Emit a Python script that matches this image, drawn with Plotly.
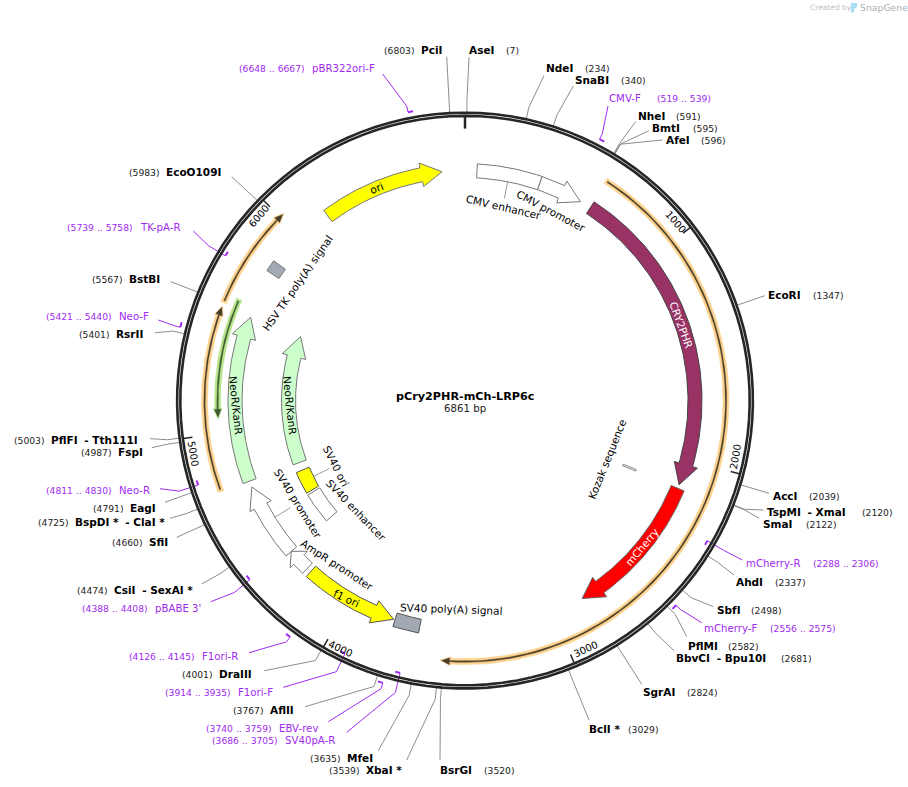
import numpy as np
import plotly.graph_objects as go

# plasmid
plasmid_name = "pCry2PHR-mCh-LRP6c"
plasmid_size = 6861

# restriction sites
site_names = ["PciI", "AseI", "NdeI", "SnaBI", "NheI", "BmtI", "AfeI", "EcoRI", "AccI",
              "TspMI\u00a0\u00a0- XmaI", "SmaI", "AhdI", "SbfI", "PflMI", "BbvCI\u00a0\u00a0- Bpu10I", "SgrAI",
              "BclI *", "BsrGI", "XbaI *", "MfeI", "AflII", "DraIII", "CsiI\u00a0\u00a0- SexAI *", "SfiI",
              "BspDI *\u00a0\u00a0- ClaI *", "EagI", "FspI", "PflFI\u00a0\u00a0- Tth111I", "RsrII", "BstBI", "EcoO109I"]
site_bp = [6803, 7, 234, 340, 591, 595, 596, 1347, 2039,
           2120, 2122, 2337, 2498, 2582, 2681, 2824,
           3029, 3520, 3539, 3635, 3767, 4001, 4474, 4660,
           4725, 4791, 4987, 5003, 5401, 5567, 5983]

# primers
primer_names = ["pBR322ori-F", "CMV-F", "mCherry-R", "mCherry-F", "SV40pA-R", "EBV-rev", "F1ori-F",
                "F1ori-R", "pBABE 3'", "Neo-R", "Neo-F", "TK-pA-R"]
primer_start = [6648, 519, 2288, 2556, 3686, 3740, 3914, 4126, 4388, 4811, 5421, 5739]
primer_end = [6667, 539, 2306, 2575, 3705, 3759, 3935, 4145, 4408, 4830, 5440, 5758]
primer_forward = [True, True, False, True, False, True, False, True, False, False, True, False]

# ticks
tick_bp = [1000, 2000, 3000, 4000, 5000, 6000]

# where the labels sit on the page
site_name_x = [421.3, 469.3, 546.3, 575, 637.7, 652.3, 666.3, 768.3, 773.3,
               767.3, 763.3, 736.3, 717.3, 688.3, 676.3, 643,
               589.3, 440.3, 366, 347.3, 270.3, 219.3, 114, 149,
               75.3, 130.3, 118.3, 51.3, 116.3, 129.3, 166]
site_num_x = [384, 506.3, 585.3, 621.3, 676.3, 693.3, 701.3, 813.3, 809.3,
              862.3, 805.7, 775.3, 751.3, 728.3, 781.3, 687.3,
              628.3, 484.3, 329.3, 310.3, 233.3, 182.3, 77.3, 112.3,
              38.3, 93.3, 81.3, 14.3, 79.3, 92.3, 129.3]
site_y = [50, 50, 68.3, 80.3, 116.3, 128.3, 140.3, 294.7, 496.3,
          512.3, 524.3, 581.7, 610.3, 646.3, 658.3, 692.3,
          729.3, 770.3, 770.3, 758.3, 710.3, 674.3, 590, 542.3,
          522.3, 508.3, 452.3, 440, 334.3, 279.3, 172.3]
site_end_x = [446.7, 469, 544, 573.3, 635.7, 649, 662.3, 764.7, 769,
              763.3, 759, 734, 713.3, 686.7, 674, 641.7,
              589, 440, 406.7, 378.3, 305, 264.3, 201.7, 176.7,
              170, 165, 151.7, 150, 155, 170.7, 231.7]
site_end_y = [56.7, 57.3, 75.7, 86, 121.7, 130.7, 140, 295.7, 493.3,
              510, 518.3, 575, 606.7, 636.7, 650.7, 684.3,
              720, 760, 760, 750.7, 706.7, 670.7, 584, 537.3,
              518.3, 502.3, 447.7, 438.7, 332.7, 281.7, 176.7]

primer_name_x = [312.3, 609.3, 746.3, 704.3, 285.3, 279.3, 238.3, 202.3, 155.3, 119.3, 119.3, 140]
primer_num_x = [239.3, 656.7, 812.7, 769.7, 212.3, 206.3, 165.3, 129.3, 82.3, 46, 46, 67.3]
primer_y = [68, 98.3, 563.3, 628.3, 740.3, 728.3, 692.3, 656.3, 608.3, 490.3, 316.3, 227.3]
primer_end_x = [382.7, 608, 742.3, 701.7, 346.7, 328.3, 283.3, 249, 210.7, 160, 158.3, 193.3]
primer_end_y = [74, 106, 560, 622.7, 732.3, 721.7, 687.3, 652.7, 601.7, 488.7, 320, 231]

tick_label_x = [675.3, 735.7, 585, 340, 193.3, 258.3]
tick_label_y = [221.7, 456.7, 649.3, 648.3, 453.3, 216]
tick_label_angle = [50, -80, -25, 25, 80, -50]

# drawing constants
CX, CY = 465, 400.6
RING_OUT, RING_IN = 287.9, 284.7
ELBOW_R = 300
FONT = "DejaVu Sans"
PURPLE = "#a02bf0"
GRAY = "#808080"
RING = "#262626"


def bp_xy(bp, r):
    theta = 2 * np.pi * np.asarray(bp, dtype=float) / plasmid_size
    return CX + r * np.sin(theta), CY - r * np.cos(theta)


def px_to_bp(px, r):
    return px / (2 * np.pi * r) * plasmid_size


def add_line(fig, xs, ys, color, width):
    fig.add_trace(go.Scatter(x=xs, y=ys, mode="lines", line=dict(color=color, width=width),
                             hoverinfo="skip", showlegend=False))


def add_arc(fig, start, end, r, color, width):
    b = np.linspace(start, end, 120)
    x, y = bp_xy(b, r)
    add_line(fig, x, y, color, width)


# arrow (or plain box when head=0) running from start to end along the circle
def add_feature(fig, start, end, r_in, r_out, fill, line_color="#777777", line_width=1, head=21, wing=5):
    r_mid = (r_in + r_out) / 2
    sign = 1 if end > start else -1
    head_bp = px_to_bp(head, r_mid) * sign
    body_end = end - head_bp
    b = np.linspace(start, body_end, 80)
    xo, yo = bp_xy(b, r_out)
    xi, yi = bp_xy(b[::-1], r_in)
    if head > 0:
        xw1, yw1 = bp_xy(body_end, r_out + wing)
        xt, yt = bp_xy(end, r_mid)
        xw2, yw2 = bp_xy(body_end, r_in - wing)
        xs = np.concatenate([xo, [xw1, xt, xw2], xi, xo[:1]])
        ys = np.concatenate([yo, [yw1, yt, yw2], yi, yo[:1]])
    else:
        xs = np.concatenate([xo, xi, xo[:1]])
        ys = np.concatenate([yo, yi, yo[:1]])
    fig.add_trace(go.Scatter(x=xs, y=ys, mode="lines", fill="toself", fillcolor=fill,
                             line=dict(color=line_color, width=line_width),
                             hoverinfo="skip", showlegend=False))


# highlighted thin feature: pale halo with a dark line on top
def add_orf(fig, start, end, r, halo, dark, arrow=True):
    head = 8 if arrow else 0
    sign = 1 if end > start else -1
    pad = px_to_bp(2, r) * sign
    add_feature(fig, start - pad, end + pad, r - 3, r + 3, halo, line_color=halo, line_width=0.5, head=head + 3, wing=1.5)
    add_feature(fig, start, end, r - 0.7, r + 0.7, dark, line_color=dark, line_width=0.3, head=head, wing=2.8)


def add_connector(fig, bp, r1, r2):
    x, y = bp_xy([bp, bp], [r1, r2])
    add_line(fig, x, y, GRAY, 0.8)


def label(fig, x, y, text, size=10.5, color="#000000", angle=0, anchor="center", bold=False):
    fig.add_annotation(x=x, y=y, text=f"<b>{text}</b>" if bold else text, showarrow=False,
                       xanchor=anchor, yanchor="middle", textangle=angle, borderpad=0, borderwidth=0,
                       font=dict(family=FONT, size=size, color=color))


fig = go.Figure()

# leader lines of the sites
for bp, ex, ey in zip(site_bp, site_end_x, site_end_y):
    x0, y0 = bp_xy(bp, RING_OUT)
    x1, y1 = bp_xy(bp, ELBOW_R)
    add_line(fig, [x0, x1, ex], [y0, y1, ey], GRAY, 0.9)

# primers
for s, e, fwd, ex, ey in zip(primer_start, primer_end, primer_forward, primer_end_x, primer_end_y):
    r = 294 if fwd else 280
    x0, y0 = bp_xy(s, r)
    x1, y1 = bp_xy(s, ELBOW_R)
    add_line(fig, [x0, x1, ex], [y0, y1, ey], PURPLE, 1)
    add_arc(fig, s, e, r, PURPLE, 2)

# backbone
add_arc(fig, 0, plasmid_size, RING_OUT, RING, 2.6)
add_arc(fig, 0, plasmid_size, RING_IN, RING, 2.6)

# ticks
x, y = bp_xy([0, 0], [RING_IN, 272])
add_line(fig, x, y, RING, 2.5)
for bp, lx, ly, a in zip(tick_bp, tick_label_x, tick_label_y, tick_label_angle):
    x, y = bp_xy([bp, bp], [RING_IN, 275])
    add_line(fig, x, y, RING, 1.5)
    label(fig, lx, ly, str(bp), size=10, angle=a)

# annotated orf bars
add_orf(fig, 630, 3529, 261, "#fdd28f", "#4a3f2a")
add_orf(fig, 4765, 5546, 260.5, "#fdd28f", "#4a3f2a")
add_orf(fig, 5575, 6015, 260.5, "#fdd28f", "#4a3f2a")
add_orf(fig, 5598, 5072, 247.5, "#b7e58c", "#3e5a2e")

# features
add_feature(fig, 57, 362, 223, 237, "#ffffff", head=0)
add_feature(fig, 362, 574, 223, 237, "#ffffff")
add_feature(fig, 629, 2124, 223, 237, "#993366", line_color="#444444")
add_feature(fig, 2142, 2847, 223, 237, "#ff0000", line_color="#666666")
add_feature(fig, 6163, 6752, 223, 237, "#ffff00")
add_feature(fig, 4232, 3775, 223, 237, "#ffff00", line_color="#555555")
add_feature(fig, 3646, 3768, 223, 237, "#a2a9b3", line_color="#555555", head=0)
add_feature(fig, 5780, 5835, 222.5, 237, "#a2a9b3", head=0)
add_feature(fig, 4755, 5551, 223, 237, "#ccffcc")
add_feature(fig, 4755, 5551, 169.5, 183.5, "#ccffcc")
add_feature(fig, 4568, 4705, 169.5, 183.5, "#ffff00", line_color="#555555", head=0)
add_feature(fig, 4365, 4555, 169.5, 183.5, "#ffffff", head=0)
add_feature(fig, 4365, 4725, 223, 237, "#ffffff")
add_feature(fig, 4254, 4365, 223, 237, "#ffffff", head=11)
add_feature(fig, 2133, 2143, 170.5, 184.5, "#ffffff", line_color="#666666", line_width=0.8, head=0)

# short connectors between features and their names
add_connector(fig, 210, 223, 206)
add_connector(fig, 4639, 169.5, 152)
add_connector(fig, 4545, 223, 205)

# feature names
label(fig, 376.7, 188.3, "ori", angle=-22)
label(fig, 503.3, 207.3, "CMV enhancer", angle=13)
label(fig, 551.3, 210.7, "CMV promoter", angle=28)
label(fig, 681.3, 325, "CRY2PHR", color="#ffffff", angle=70)
label(fig, 641.7, 546.7, "mCherry", color="#ffffff", angle=-50)
label(fig, 607.3, 459.3, "Kozak sequence", angle=-68)
label(fig, 451, 609, "SV40 poly(A) signal", angle=2)
label(fig, 297.7, 283.3, "HSV TK poly(A) signal", angle=-55)
label(fig, 236, 405, "NeoR/KanR", angle=84)
label(fig, 290, 405, "NeoR/KanR", angle=84)
label(fig, 336, 466, "SV40 ori", angle=63)
label(fig, 356, 510, "SV40 enhancer", angle=46)
label(fig, 298.3, 504, "SV40 promoter", angle=58)
label(fig, 337.3, 565, "AmpR promoter", angle=33)
label(fig, 346, 597.7, "f1 ori", angle=25)

# site names
for name, bp, nx, numx, y in zip(site_names, site_bp, site_name_x, site_num_x, site_y):
    parts = name.split("\u00a0\u00a0")
    label(fig, nx, y, "\u00a0\u00a0".join(f"<b>{p}</b>" for p in parts), size=10.5, anchor="left")
    label(fig, numx, y + 0.5, f"({bp})", size=9.2, color="#222222", anchor="left")

# primer names
for name, s, e, nx, numx, y in zip(primer_names, primer_start, primer_end, primer_name_x, primer_num_x, primer_y):
    label(fig, nx, y, name, size=10.2, color=PURPLE, anchor="left")
    label(fig, numx, y + 0.5, f"({s} .. {e})", size=9.2, color=PURPLE, anchor="left")

# centre title
label(fig, 465, 396, plasmid_name, size=11.2, bold=True)
label(fig, 465, 408, f"{plasmid_size} bp", size=10.2, color="#222222")

# watermark
label(fig, 810, 7.5, "Created by", size=7.5, color="#bfbfbf", anchor="left")
label(fig, 860, 7.5, "SnapGene", size=9.3, color="#a8b0b6", anchor="left")
fig.add_shape(type="path", path="M851,3 L857,3 L857,7 L854,9 L854,12 L851,13 Z",
              fillcolor="#a9dcf5", line=dict(width=0))

fig.update_layout(width=908, height=787, margin=dict(l=0, r=0, t=0, b=0),
                  paper_bgcolor="#ffffff", plot_bgcolor="#ffffff", showlegend=False,
                  xaxis=dict(range=[0, 908], visible=False, fixedrange=True),
                  yaxis=dict(range=[787, 0], visible=False, fixedrange=True))

# page margin off so the chart fills the window
fig.write_html("out.html", config={"displayModeBar": False},
               post_script="document.body.style.margin='0';")
